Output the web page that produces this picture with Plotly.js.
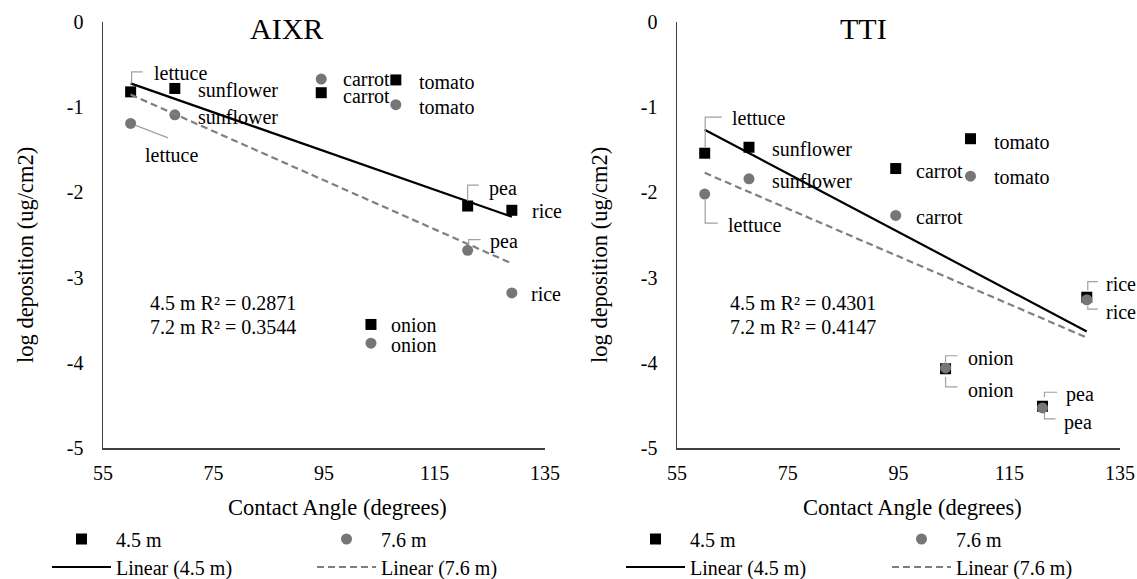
<!DOCTYPE html>
<html><head><meta charset="utf-8">
<script src="https://cdn.plot.ly/plotly-3.0.1.min.js"></script>
<style>html,body{margin:0;padding:0;background:#fff}#chart{width:1137px;height:579px}</style>
</head><body><div id="chart"></div>
<script>
// ---- data ----
const crops = ['lettuce','sunflower','carrot','tomato','pea','rice','onion'];
const contactAngle = [60, 68, 94.5, 108, 121, 129, 103.5];
const aixr45 = [-0.82, -0.78, -0.83, -0.68, -2.16, -2.21, -3.55];
const aixr76 = [-1.19, -1.09, -0.67, -0.97, -2.68, -3.18, -3.77];
const tti45 = [-1.54, -1.47, -1.72, -1.37, -4.51, -3.23, -4.07];
const tti76 = [-2.02, -1.84, -2.27, -1.81, -4.53, -3.26, -4.06];
const panelTitles = ['AIXR', 'TTI'];
const r2Text = [['4.5 m R² = 0.2871', '7.2 m R² = 0.3544'], ['4.5 m R² = 0.4301', '7.2 m R² = 0.4147']];
const seriesNames = ['4.5 m', '7.6 m', 'Linear (4.5 m)', 'Linear (7.6 m)'];
const xTitle = 'Contact Angle (degrees)';
const yTitle = 'log deposition (ug/cm2)';
const xTickVals = [55, 75, 95, 115, 135];
const xTickText = ['55', '75', '95', '115', '135'];
const yTickVals = [0, -1, -2, -3, -4, -5];
const yTickText = ['0', '-1', '-2', '-3', '-4', '-5'];

// ---- layout / style ----
const W = 1137, H = 579;
const FONT = 'Liberation Serif';
const BLACK = '#000000', GREY = '#767676', DASHGREY = '#7f7f7f', AXIS = '#404040', LEADER = '#a0a0a0';
const px = (v) => v / W, py = (v) => 1 - v / H;

// label offsets in px [dx, dy(down)] by panel -> series -> crop index
const labelOff = [
  [ [[21,-18.5],[21,2],[20,3],[21,2],[19,-18],[18,1],[18.5,1]],
    [[12.7,32],[21,2],[20,0],[21,2],[20,-8.5],[17,1],[18.5,2]] ],
  [ [[25,-35],[21.5,2],[18,2],[21.5,3],[22,-12],[17,-13],[20,-11]],
    [[21,31],[21.5,2],[18,2],[21.5,1],[19.4,15],[17,12],[20,22]] ]
];
// leader lines (px, y down) keyed by crop name
const leaders = [
  [ {lettuce:[[1,-8],[1,-20],[12,-20]], pea:[[0,-5],[0,-21],[11,-21]]},
    {lettuce:[[5,2],[37.5,14.5]], pea:[[1,-5],[1,-10.7],[13,-10.7]]} ],
  [ {lettuce:[[0.5,-6],[0.5,-36],[17,-36]], rice:[[1,-7],[1,-15.5],[11,-15.5]], onion:[[0,-7],[0,-13],[12,-13]], pea:[[2,-9],[2,-14],[14.7,-14]]},
    {lettuce:[[0.5,6],[0.5,29],[13,29]], rice:[[1,6],[1,9.3],[11,9.3]], onion:[[0,9],[0,19],[12,19]], pea:[[2,5],[2,11],[13,11]]} ]
];

function fit(xs, ys) {
  const n = xs.length;
  const mx = xs.reduce((a, b) => a + b, 0) / n, my = ys.reduce((a, b) => a + b, 0) / n;
  let sxy = 0, sxx = 0;
  for (let i = 0; i < n; i++) { sxy += (xs[i] - mx) * (ys[i] - my); sxx += (xs[i] - mx) ** 2; }
  const b = sxy / sxx, a = my - b * mx;
  const x0 = Math.min(...xs), x1 = Math.max(...xs);
  return { x: [x0, x1], y: [a + b * x0, a + b * x1] };
}

const panels = [
  { s45: aixr45, s76: aixr76, xa: 'x', ya: 'y', dom: [103, 545], titleX: 286, ytX: 25, xtX: 337.7, r2X: 147.7,
    leg: [[47,539],[312,539],[47,567],[312,567]] },
  { s45: tti45, s76: tti76, xa: 'x2', ya: 'y2', dom: [677, 1120], titleX: 863, ytX: 599, xtX: 912.6, r2X: 727.7,
    leg: [[621,539],[887,539],[621,567],[887,567]] }
];

const traces = [], annotations = [], shapes = [];
const layout = {
  width: W, height: H, paper_bgcolor: '#fff', plot_bgcolor: '#fff',
  margin: { l: 0, r: 0, t: 0, b: 0, autoexpand: false },
  font: { family: FONT, size: 20, color: BLACK },
  showlegend: true
};

let legIdx = 0;
panels.forEach((p, pi) => {
  const sfx = pi === 0 ? '' : '2';
  const legs = [];
  for (let k = 0; k < 4; k++) {
    legIdx++;
    const id = legIdx === 1 ? 'legend' : 'legend' + legIdx;
    legs.push(id);
    layout[id] = {
      x: px(p.leg[k][0]), y: py(p.leg[k][1]), xanchor: 'left', yanchor: 'middle',
      orientation: 'h', itemwidth: 59, bgcolor: 'rgba(0,0,0,0)', borderwidth: 0,
      font: { family: FONT, size: 20, color: BLACK }, itemclick: false, itemdoubleclick: false
    };
  }
  traces.push({ type: 'scatter', mode: 'markers', x: contactAngle, y: p.s45, xaxis: p.xa, yaxis: p.ya,
    name: seriesNames[0], legend: legs[0], marker: { symbol: 'square', size: 11, color: BLACK }, cliponaxis: false, hoverinfo: 'skip' });
  traces.push({ type: 'scatter', mode: 'markers', x: contactAngle, y: p.s76, xaxis: p.xa, yaxis: p.ya,
    name: seriesNames[1], legend: legs[1], marker: { symbol: 'circle', size: 11, color: GREY }, cliponaxis: false, hoverinfo: 'skip' });
  const f45 = fit(contactAngle, p.s45), f76 = fit(contactAngle, p.s76);
  traces.push({ type: 'scatter', mode: 'lines', x: f45.x, y: f45.y, xaxis: p.xa, yaxis: p.ya,
    name: seriesNames[2], legend: legs[2], line: { color: BLACK, width: 2.2 }, hoverinfo: 'skip' });
  traces.push({ type: 'scatter', mode: 'lines', x: f76.x, y: f76.y, xaxis: p.xa, yaxis: p.ya,
    name: seriesNames[3], legend: legs[3], line: { color: DASHGREY, width: 2.2, dash: '7px,4px' }, hoverinfo: 'skip' });

  layout['xaxis' + sfx] = {
    domain: [px(p.dom[0]), px(p.dom[1])], range: [55, 135], anchor: 'y' + sfx,
    tickmode: 'array', tickvals: xTickVals, ticktext: xTickText, ticks: '', ticklabelstandoff: 6,
    showgrid: false, zeroline: false, showline: true, linecolor: AXIS, linewidth: 2,
    tickfont: { family: FONT, size: 20, color: BLACK }, fixedrange: true
  };
  layout['yaxis' + sfx] = {
    domain: [py(448), py(22)], range: [-5, 0], anchor: 'x' + sfx,
    tickmode: 'array', tickvals: yTickVals, ticktext: yTickText, ticks: '', ticklabelstandoff: 14,
    showgrid: false, zeroline: false, showline: true, linecolor: AXIS, linewidth: 1.5,
    tickfont: { family: FONT, size: 20, color: BLACK }, fixedrange: true
  };

  // titles
  annotations.push({ xref: 'paper', yref: 'paper', x: px(p.titleX), y: py(29), xanchor: 'center', yanchor: 'middle',
    text: panelTitles[pi], showarrow: false, font: { family: FONT, size: 30, color: BLACK } });
  annotations.push({ xref: 'paper', yref: 'paper', x: px(p.xtX), y: py(507), xanchor: 'center', yanchor: 'middle',
    text: xTitle, showarrow: false, font: { family: FONT, size: 22.5, color: BLACK } });
  annotations.push({ xref: 'paper', yref: 'paper', x: px(p.ytX), y: py(255), xanchor: 'center', yanchor: 'middle',
    text: yTitle, textangle: -90, showarrow: false, font: { family: FONT, size: 22.5, color: BLACK } });
  r2Text[pi].forEach((t, j) => {
    annotations.push({ xref: 'paper', yref: 'paper', x: px(p.r2X), y: py(303 + 24 * j), xanchor: 'left', yanchor: 'middle',
      text: t, showarrow: false, font: { family: FONT, size: 20, color: BLACK } });
  });

  // data labels + leaders
  [p.s45, p.s76].forEach((series, si) => {
    crops.forEach((c, ci) => {
      const off = labelOff[pi][si][ci];
      annotations.push({ xref: p.xa, yref: p.ya, x: contactAngle[ci], y: series[ci], xshift: off[0], yshift: -off[1],
        xanchor: 'left', yanchor: 'middle', text: c, showarrow: false, font: { family: FONT, size: 20, color: BLACK } });
      const ld = leaders[pi][si][c];
      if (ld) {
        const path = ld.map((pt, k) => (k === 0 ? 'M' : 'L') + pt[0] + ',' + (-pt[1])).join(' ');
        shapes.push({ type: 'path', xref: p.xa, yref: p.ya, xsizemode: 'pixel', ysizemode: 'pixel',
          xanchor: contactAngle[ci], yanchor: series[ci], path: path, line: { color: LEADER, width: 1.2 } });
      }
    });
  });
});

layout.annotations = annotations;
layout.shapes = shapes;
Plotly.newPlot('chart', traces, layout, { staticPlot: true, displayModeBar: false });
</script>
</body></html>
